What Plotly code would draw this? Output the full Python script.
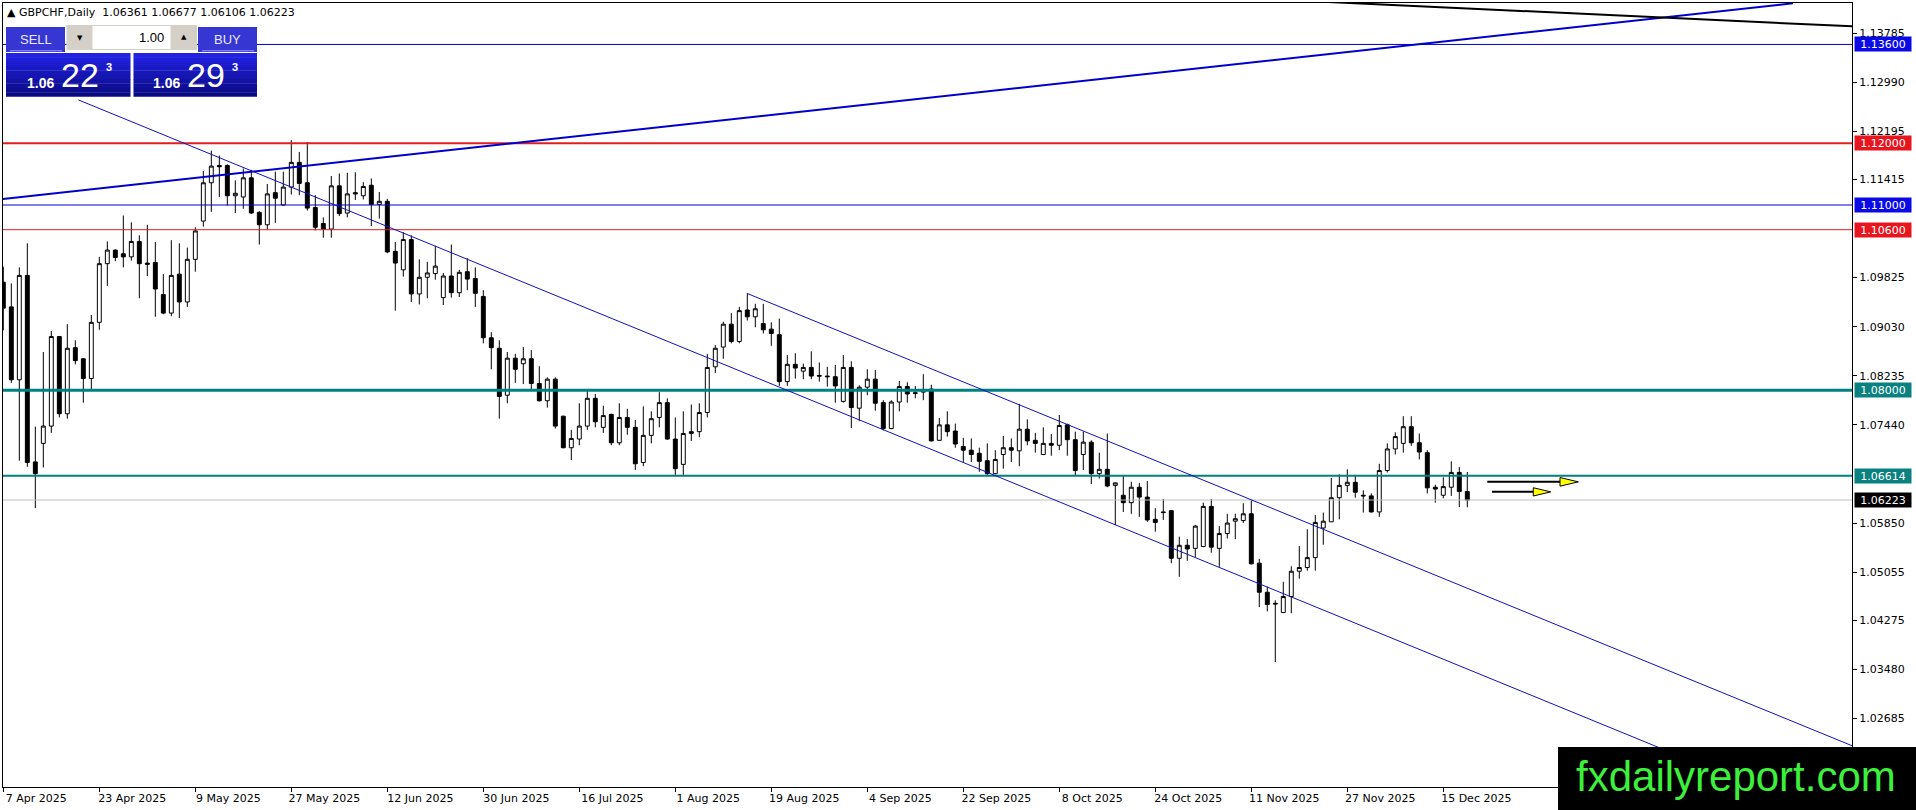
#!/usr/bin/env python3
"""
GBPCHF daily candles, MT4 style, rebuilt with Plotly.

Bars are placed on a plain bar index (one per weekday) and the date
labels are put on every 12th bar, like the terminal does it.
"""

import plotly.graph_objects as go


# ---------------------------------------------------------------- data ---

SYMBOL_TITLE = "GBPCHF,Daily"
LAST_OHLC = [1.06361, 1.06677, 1.06106, 1.06223]

opens = [
    1.0975, 1.0935, 1.0817, 1.0986, 1.0684, 1.0714, 1.0742, 1.0887, 1.0762, 1.0869,
    1.0851, 1.0819, 1.0910, 1.1005, 1.1027, 1.1021, 1.1016, 1.1041, 1.1006, 1.1007,
    1.0955, 1.0925, 1.0988, 1.0943, 1.1012, 1.1074, 1.1136, 1.1164, 1.1164, 1.1115,
    1.1113, 1.1144, 1.1088, 1.1068, 1.1120, 1.1100, 1.1129, 1.1169, 1.1136, 1.1096,
    1.1070, 1.1061, 1.1131, 1.1087, 1.1120, 1.1115, 1.1132, 1.1101, 1.1106, 1.1025,
    1.0995, 1.1044, 1.0956, 1.0983, 1.0989, 1.0950, 1.0985, 1.0958, 1.0992, 1.0981,
    1.0952, 1.0885, 1.0868, 1.0792, 1.0852, 1.0843, 1.0851, 1.0811, 1.0783, 1.0818,
    1.0758, 1.0707, 1.0721, 1.0742, 1.0787, 1.0740, 1.0761, 1.0715, 1.0756, 1.0740,
    1.0683, 1.0727, 1.0756, 1.0780, 1.0721, 1.0680, 1.0730, 1.0733, 1.0764, 1.0838,
    1.0870, 1.0907, 1.0879, 1.0930, 1.0919, 1.0908, 1.0899, 1.0890, 1.0814, 1.0842,
    1.0831, 1.0837, 1.0824, 1.0823, 1.0822, 1.0782, 1.0837, 1.0771, 1.0805, 1.0818,
    1.0780, 1.0738, 1.0781, 1.0806, 1.0796, 1.0797, 1.0802, 1.0719, 1.0744, 1.0734,
    1.0709, 1.0703, 1.0698, 1.0686, 1.0665, 1.0696, 1.0707, 1.0702, 1.0737, 1.0719,
    1.0696, 1.0714, 1.0711, 1.0744, 1.0720, 1.0696, 1.0716, 1.0665, 1.0672, 1.0646,
    1.0630, 1.0618, 1.0643, 1.0627, 1.0591, 1.0603, 1.0605, 1.0528, 1.0549, 1.0544,
    1.0547, 1.0612, 1.0544, 1.0568, 1.0588, 1.0589, 1.0600, 1.0520, 1.0473, 1.0455,
    1.0440, 1.0466, 1.0507, 1.0513, 1.0529, 1.0577, 1.0587, 1.0626, 1.0646, 1.0651,
    1.0630, 1.0629, 1.0603, 1.0670, 1.0705, 1.0714, 1.0741, 1.0715, 1.0699, 1.0643,
    1.0630, 1.0643, 1.0667, 1.06361,
]
highs = [
    1.1000, 1.0973, 1.0999, 1.1038, 1.0741, 1.0862, 1.0896, 1.0888, 1.0907, 1.0881,
    1.0852, 1.0922, 1.1016, 1.1041, 1.1028, 1.1083, 1.1072, 1.1051, 1.1068, 1.1040,
    1.0988, 1.1043, 1.1038, 1.1031, 1.1064, 1.1155, 1.1188, 1.1180, 1.1166, 1.1140,
    1.1159, 1.1157, 1.1090, 1.1134, 1.1154, 1.1154, 1.1205, 1.1186, 1.1202, 1.1116,
    1.1080, 1.1147, 1.1151, 1.1152, 1.1153, 1.1137, 1.1143, 1.1121, 1.1110, 1.1040,
    1.1056, 1.1051, 1.1012, 1.1008, 1.1034, 1.0990, 1.1036, 1.0995, 1.1014, 1.0999,
    1.0962, 1.0894, 1.0881, 1.0862, 1.0859, 1.0870, 1.0865, 1.0839, 1.0821, 1.0821,
    1.0759, 1.0736, 1.0779, 1.0802, 1.0794, 1.0775, 1.0762, 1.0779, 1.0770, 1.0752,
    1.0774, 1.0766, 1.0797, 1.0787, 1.0756, 1.0766, 1.0777, 1.0779, 1.0859, 1.0873,
    1.0911, 1.0925, 1.0935, 1.0957, 1.0940, 1.0940, 1.0910, 1.0916, 1.0857, 1.0860,
    1.0843, 1.0863, 1.0845, 1.0838, 1.0841, 1.0857, 1.0847, 1.0808, 1.0834, 1.0833,
    1.0784, 1.0784, 1.0815, 1.0813, 1.0807, 1.0826, 1.0809, 1.0755, 1.0766, 1.0746,
    1.0723, 1.0722, 1.0707, 1.0714, 1.0703, 1.0726, 1.0722, 1.0778, 1.0753, 1.0731,
    1.0740, 1.0729, 1.0760, 1.0746, 1.0733, 1.0733, 1.0719, 1.0699, 1.0730, 1.0651,
    1.0661, 1.0652, 1.0650, 1.0653, 1.0609, 1.0624, 1.0606, 1.0563, 1.0559, 1.0582,
    1.0618, 1.0624, 1.0580, 1.0600, 1.0600, 1.0617, 1.0622, 1.0527, 1.0482, 1.0460,
    1.0490, 1.0515, 1.0548, 1.0575, 1.0598, 1.0602, 1.0658, 1.0664, 1.0672, 1.0663,
    1.0638, 1.0633, 1.0681, 1.0714, 1.0732, 1.0758, 1.0758, 1.0730, 1.0703, 1.0647,
    1.0659, 1.0685, 1.0676, 1.06677,
]
lows = [
    1.0897, 1.0812, 1.0686, 1.0676, 1.0609, 1.0675, 1.0731, 1.0756, 1.0754, 1.0842,
    1.0780, 1.0800, 1.0898, 1.0969, 1.1009, 1.0999, 1.1010, 1.0949, 1.0985, 1.0919,
    1.0923, 1.0920, 1.0917, 1.0935, 1.0992, 1.1065, 1.1089, 1.1113, 1.1099, 1.1087,
    1.1094, 1.1086, 1.1036, 1.1060, 1.1071, 1.1099, 1.1117, 1.1116, 1.1091, 1.1059,
    1.1047, 1.1047, 1.1082, 1.1080, 1.1108, 1.1109, 1.1066, 1.1078, 1.1022, 1.0929,
    1.0984, 1.0943, 1.0939, 1.0949, 1.0979, 1.0938, 1.0950, 1.0951, 1.0962, 1.0935,
    1.0876, 1.0834, 1.0754, 1.0779, 1.0812, 1.0810, 1.0800, 1.0782, 1.0772, 1.0738,
    1.0706, 1.0687, 1.0711, 1.0736, 1.0740, 1.0731, 1.0711, 1.0711, 1.0728, 1.0671,
    1.0677, 1.0714, 1.0740, 1.0720, 1.0663, 1.0663, 1.0718, 1.0724, 1.0756, 1.0828,
    1.0851, 1.0876, 1.0876, 1.0913, 1.0902, 1.0892, 1.0872, 1.0807, 1.0807, 1.0819,
    1.0818, 1.0818, 1.0814, 1.0806, 1.0780, 1.0780, 1.0739, 1.0750, 1.0792, 1.0767,
    1.0735, 1.0737, 1.0766, 1.0780, 1.0787, 1.0784, 1.0717, 1.0718, 1.0725, 1.0707,
    1.0684, 1.0684, 1.0668, 1.0663, 1.0664, 1.0673, 1.0684, 1.0677, 1.0711, 1.0699,
    1.0695, 1.0694, 1.0703, 1.0694, 1.0662, 1.0671, 1.0648, 1.0657, 1.0643, 1.0582,
    1.0603, 1.0600, 1.0595, 1.0587, 1.0571, 1.0590, 1.0520, 1.0498, 1.0524, 1.0530,
    1.0546, 1.0537, 1.0514, 1.0560, 1.0559, 1.0585, 1.0518, 1.0449, 1.0442, 1.0360,
    1.0440, 1.0439, 1.0495, 1.0508, 1.0508, 1.0550, 1.0587, 1.0591, 1.0635, 1.0626,
    1.0602, 1.0602, 1.0595, 1.0667, 1.0696, 1.0699, 1.0710, 1.0688, 1.0633, 1.0618,
    1.0625, 1.0629, 1.0611, 1.06106,
]
closes = [
    1.0933, 1.0817, 1.0986, 1.0683, 1.0665, 1.0742, 1.0887, 1.0762, 1.0868, 1.0848,
    1.0819, 1.0910, 1.1005, 1.1027, 1.1015, 1.1016, 1.1041, 1.1005, 1.1004, 1.0964,
    1.0925, 1.0986, 1.0943, 1.1012, 1.1058, 1.1136, 1.1163, 1.1162, 1.1115, 1.1119,
    1.1144, 1.1087, 1.1068, 1.1118, 1.1111, 1.1129, 1.1169, 1.1135, 1.1095, 1.1064,
    1.1061, 1.1131, 1.1086, 1.1118, 1.1118, 1.1130, 1.1101, 1.1106, 1.1024, 1.1006,
    1.1044, 1.0956, 1.0983, 1.0990, 1.1001, 1.0985, 1.0958, 1.0991, 1.0980, 1.0957,
    1.0885, 1.0869, 1.0790, 1.0852, 1.0834, 1.0851, 1.0811, 1.0783, 1.0818, 1.0742,
    1.0707, 1.0722, 1.0742, 1.0787, 1.0749, 1.0759, 1.0715, 1.0756, 1.0740, 1.0681,
    1.0727, 1.0754, 1.0780, 1.0721, 1.0673, 1.0730, 1.0733, 1.0764, 1.0837, 1.0868,
    1.0907, 1.0879, 1.0929, 1.0919, 1.0932, 1.0898, 1.0892, 1.0814, 1.0842, 1.0836,
    1.0837, 1.0823, 1.0823, 1.0822, 1.0807, 1.0837, 1.0772, 1.0805, 1.0818, 1.0779,
    1.0738, 1.0781, 1.0806, 1.0794, 1.0795, 1.0801, 1.0718, 1.0744, 1.0733, 1.0713,
    1.0703, 1.0696, 1.0685, 1.0665, 1.0688, 1.0707, 1.0703, 1.0737, 1.0718, 1.0714,
    1.0714, 1.0711, 1.0743, 1.0720, 1.0670, 1.0716, 1.0665, 1.0672, 1.0645, 1.0650,
    1.0618, 1.0643, 1.0627, 1.0590, 1.0586, 1.0602, 1.0528, 1.0549, 1.0543, 1.0580,
    1.0612, 1.0546, 1.0568, 1.0585, 1.0592, 1.0600, 1.0519, 1.0473, 1.0453, 1.0454,
    1.0466, 1.0507, 1.0513, 1.0529, 1.0586, 1.0588, 1.0626, 1.0646, 1.0651, 1.0635,
    1.0629, 1.0603, 1.0670, 1.0705, 1.0725, 1.0741, 1.0715, 1.0700, 1.0642, 1.0640,
    1.0644, 1.0667, 1.0636, 1.06223,
]

# date labels on every 12th bar
date_tick_bars = [0, 12, 24, 36, 48, 60, 72, 84, 96, 108, 120, 132, 144, 156, 168, 180]
date_tick_labels = [
    "7 Apr 2025", "23 Apr 2025", "9 May 2025", "27 May 2025", "12 Jun 2025",
    "30 Jun 2025", "16 Jul 2025", "1 Aug 2025", "19 Aug 2025", "4 Sep 2025",
    "22 Sep 2025", "8 Oct 2025", "24 Oct 2025", "11 Nov 2025", "27 Nov 2025",
    "15 Dec 2025",
]

price_ticks = [
    1.13785, 1.12990, 1.12195, 1.11415, 1.09825, 1.09030, 1.08235,
    1.07440, 1.05850, 1.05055, 1.04275, 1.03480, 1.02685,
]

# horizontal levels drawn on the chart
level_prices = [1.13600, 1.12000, 1.11000, 1.10600, 1.08000, 1.06614, 1.06223]

# trend lines as (bar, price) pairs
blue_trend = [(-0.41, 1.11093), (223.7, 1.14266)]
black_trend = [(160.0, 1.14321), (231.1, 1.13893)]
channel_lower = [(9.38, 1.12702), (231.1, 1.00933)]
channel_upper = [(93.0, 1.09567), (231.1, 1.02244)]

# the two yellow arrows: line start, line end / triangle base, tip, half height
arrow_a = (185.5, 194.59, 196.88, 1.06517, 0.00070)
arrow_b = (186.09, 191.25, 193.43, 1.06355, 0.00067)

SELL_PRICE = ("1.06", "22", "3")
BUY_PRICE = ("1.06", "29", "3")
LOT_SIZE = "1.00"
WATERMARK = "fxdailyreport.com"


# -------------------------------------------------------------- layout ---

W, H = 1916, 810
M_L, M_R, M_T, M_B = 3, 64, 3, 23
PW = W - M_L - M_R
PH = H - M_T - M_B
X_RANGE = [-0.04, 231.09]
Y_RANGE = [1.01576, 1.14271]

FONT = "DejaVu Sans"
BLUE = "#0000CD"
RED = "#E01E1E"
TEAL = "#008080"

level_styles = [
    (BLUE, 1, "#0A0AE6"),
    (RED, 2, "#E8141E"),
    (BLUE, 1, "#0A0AE6"),
    (RED, 1, "#E8141E"),
    (TEAL, 3, "#0B8080"),
    (TEAL, 2, "#0B8080"),
    ("#C0C0C0", 1, "#000000"),
]


def fx(px):
    """pixel x -> paper x"""
    return (px - M_L) / PW


def fy(py):
    """pixel y -> paper y"""
    return (H - M_B - py) / PH


def paper_rect(x0, y0, x1, y1, color):
    return dict(type="rect", xref="paper", yref="paper", layer="above",
                x0=fx(x0), x1=fx(x1), y0=fy(y1), y1=fy(y0),
                fillcolor=color, line=dict(width=0))


def paper_text(x, y, text, size, color, anchor="center", family=FONT, bold=False):
    if bold:
        text = "<b>" + text + "</b>"
    return dict(xref="paper", yref="paper", x=fx(x), y=fy(y), text=text,
                showarrow=False, xanchor=anchor, yanchor="middle",
                font=dict(family=family, size=size, color=color))


def data_line(points, color, width):
    (xa, ya), (xb, yb) = points
    return dict(type="line", xref="x", yref="y", layer="above",
                x0=xa, y0=ya, x1=xb, y1=yb, line=dict(color=color, width=width))


def arrow_shapes(spec):
    x0, xb, xt, y, h = spec
    line = dict(type="line", xref="x", yref="y", layer="above",
                x0=x0, x1=xb, y0=y, y1=y, line=dict(color="black", width=2))
    tri = dict(type="path", xref="x", yref="y", layer="above",
               path=f"M {xb},{y + h} L {xt},{y} L {xb},{y - h} Z",
               fillcolor="#FFFF00", line=dict(color="black", width=1))
    return [line, tri]


def price_box_shapes(x0, x1, y0=53, y1=96.5, bands=10):
    # vertical gradient, bright blue on top going to navy
    top = (34, 34, 228)
    bot = (10, 10, 132)
    out = []
    step = (y1 - y0) / bands
    for k in range(bands):
        t = k / (bands - 1)
        c = tuple(round(top[i] + (bot[i] - top[i]) * t) for i in range(3))
        out.append(paper_rect(x0, y0 + k * step, x1, y0 + (k + 1) * step + 0.3,
                              "rgb(%d,%d,%d)" % c))
    return out


def build_figure():
    bars = list(range(len(opens)))

    fig = go.Figure(go.Candlestick(
        x=bars, open=opens, high=highs, low=lows, close=closes,
        increasing=dict(line=dict(color="black", width=1), fillcolor="white"),
        decreasing=dict(line=dict(color="black", width=1), fillcolor="black"),
        whiskerwidth=0,
        hoverinfo="skip",
    ))

    shapes = []
    annotations = []

    # horizontal levels + their price tags on the right scale
    for price, (col, width, tag) in zip(level_prices, level_styles):
        shapes.append(dict(type="line", xref="paper", yref="y", layer="above",
                           x0=0, x1=1, y0=price, y1=price,
                           line=dict(color=col, width=width)))
        annotations.append(dict(xref="paper", yref="y", x=fx(1854), y=price,
                                xanchor="left", yanchor="middle",
                                text=f"{price:.5f}", showarrow=False,
                                bgcolor=tag, width=54, height=12, borderpad=1,
                                font=dict(family=FONT, size=11, color="white")))

    shapes.append(data_line(blue_trend, BLUE, 2))
    shapes.append(data_line(black_trend, "black", 2))
    shapes.append(data_line(channel_lower, "#1010C0", 1))
    shapes.append(data_line(channel_upper, "#1010C0", 1))
    shapes += arrow_shapes(arrow_a)
    shapes += arrow_shapes(arrow_b)

    # one-click trading panel
    shapes.append(paper_rect(6, 27, 65, 52, "#3636D2"))
    shapes.append(paper_rect(198, 27, 257, 52, "#3636D2"))
    shapes.append(paper_rect(10, 50.2, 62, 51.2, "#9A9AF0"))
    shapes.append(paper_rect(202, 50.2, 254, 51.2, "#9A9AF0"))
    shapes.append(paper_rect(66.5, 25, 197, 50, "#D4D0C8"))
    shapes.append(paper_rect(92.5, 26, 170.5, 49, "white"))
    shapes += price_box_shapes(6, 130.5)
    shapes += price_box_shapes(133.5, 257)

    annotations += [
        paper_text(35.5, 39, "SELL", 13, "#E8E8FF", family="Liberation Sans"),
        paper_text(227.5, 39, "BUY", 13, "#E8E8FF", family="Liberation Sans"),
        paper_text(80, 38, "▼", 7, "black"),
        paper_text(184, 37, "▲", 7, "black"),
        paper_text(166, 37.5, LOT_SIZE, 13, "black", anchor="right",
                   family="Liberation Sans"),
        paper_text(25, 82.5, SELL_PRICE[0], 14, "white", anchor="left",
                   family="Liberation Sans", bold=True),
        paper_text(59, 75.5, SELL_PRICE[1], 34, "white", anchor="left",
                   family="Liberation Sans"),
        paper_text(104, 66.5, SELL_PRICE[2], 11, "white", anchor="left",
                   family="Liberation Sans", bold=True),
        paper_text(151, 82.5, BUY_PRICE[0], 14, "white", anchor="left",
                   family="Liberation Sans", bold=True),
        paper_text(185, 75.5, BUY_PRICE[1], 34, "white", anchor="left",
                   family="Liberation Sans"),
        paper_text(230, 66.5, BUY_PRICE[2], 11, "white", anchor="left",
                   family="Liberation Sans", bold=True),
    ]

    # title line with the last bar
    nb = "\u00a0"
    title = ("▲" + nb + SYMBOL_TITLE + nb + nb
             + nb.join(f"{v:.5f}" for v in LAST_OHLC))
    annotations.append(paper_text(5, 12.5, title, 11, "black", anchor="left"))

    # watermark
    shapes.append(paper_rect(1558, 747, 1920, 812, "black"))
    annotations.append(paper_text(1736, 776, WATERMARK, 42, "#3CF03C",
                                  family="Liberation Sans"))

    fig.update_layout(
        width=W, height=H,
        margin=dict(l=M_L, r=M_R, t=M_T, b=M_B, pad=0),
        paper_bgcolor="white", plot_bgcolor="white",
        showlegend=False,
        hovermode=False,
        font=dict(family=FONT, size=11, color="black"),
        shapes=shapes,
        annotations=annotations,
        xaxis=dict(
            range=X_RANGE, rangeslider=dict(visible=False),
            showgrid=False, zeroline=False,
            showline=True, linecolor="black", linewidth=1, mirror=True,
            tickmode="array", tickvals=date_tick_bars, ticktext=date_tick_labels,
            ticks="outside", ticklen=4, tickcolor="black",
            ticklabelshift=33, ticklabelstandoff=-3,
            tickfont=dict(family=FONT, size=11, color="black"),
        ),
        yaxis=dict(
            range=Y_RANGE, side="right",
            showgrid=False, zeroline=False,
            showline=True, linecolor="black", linewidth=1, mirror=True,
            tickmode="array", tickvals=price_ticks,
            ticktext=[f"{v:.5f}" for v in price_ticks],
            ticks="outside", ticklen=4, tickcolor="black",
            tickfont=dict(family=FONT, size=11, color="black"),
        ),
    )
    return fig


if __name__ == "__main__":
    fig = build_figure()
    # the page body has a default 8px margin; drop it so the chart sits at 0,0
    fig.write_html("out.html",
                   config={"displayModeBar": False},
                   post_script="document.body.style.margin='0px';")
